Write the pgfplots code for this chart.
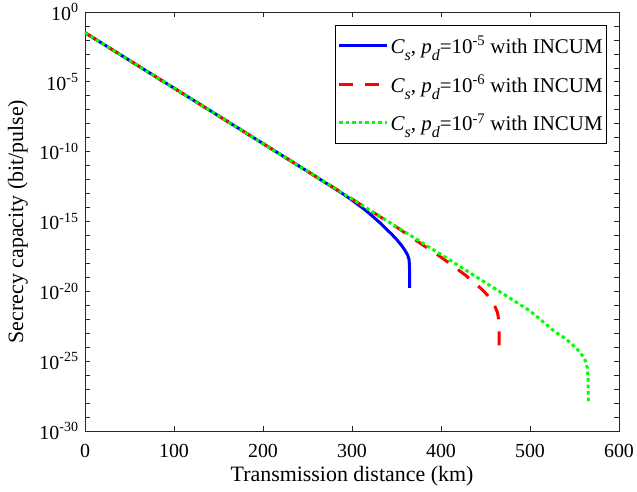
\documentclass[border=0pt]{standalone}
\usepackage{fontspec}
\setmainfont{Liberation Serif}
\usepackage{pgfplots}
\pgfplotsset{compat=1.18}

\newcommand{\tfont}{\fontsize{20}{24}\selectfont}
\newcommand{\gfont}{\fontsize{21}{25}\selectfont}
\newcommand{\lfont}{\fontsize{22}{26}\selectfont}
\newcommand{\sub}[1]{\raisebox{-0.33em}{\fontsize{16}{16}\selectfont\textit{#1}}}
\newcommand{\ent}[1]{\textit{C}\sub{s}, \textit{p}\sub{d}=10\textsuperscript{#1} with INCUM}

\begin{document}
\begin{tikzpicture}
\begin{axis}[
  at={(0,0)}, anchor=south west,
  scale only axis, width=534bp, height=419bp,
  xmin=0, xmax=600, ymin=-30, ymax=0,
  xtick={0,100,...,600},
  ytick={-30,-25,...,0},
  yticklabels={10\textsuperscript{-30},10\textsuperscript{-25},10\textsuperscript{-20},10\textsuperscript{-15},10\textsuperscript{-10},10\textsuperscript{-5},10\textsuperscript{0}},
  minor ytick={-29,-28,-27,-26,-24,-23,-22,-21,-19,-18,-17,-16,-14,-13,-12,-11,-9,-8,-7,-6,-4,-3,-2,-1},
  tick align=inside, tick pos=both,
  major tick length=5bp, minor tick length=5bp,
  axis line style={black!85, line width=0.7bp},
  every tick/.style={black!85, line width=0.7bp},
  /pgf/number format/assume math mode=true,
  tick label style={font=\tfont},
  xticklabel style={yshift=-10bp},
  yticklabel style={xshift=-3bp},
  label style={font=\lfont},
  xlabel={Transmission distance (km)},
  ylabel={Secrecy capacity (bit/pulse)},
  xlabel style={at={(axis description cs:0.5,-0.1074)}, anchor=center},
  ylabel style={at={(axis description cs:-0.1255,0.5)}, anchor=center},
  legend cell align=left,
  legend style={at={(1,1)}, anchor=north east, xshift=-12bp, yshift=-13bp,
    draw=black, line width=0.7bp, font=\gfont, inner xsep=2bp, inner ysep=9bp,
    row sep=16bp},
  legend image code/.code={\draw[#1] (0bp,0bp) -- (48bp,0bp);},
]
\addplot[blue, line width=3bp] coordinates {
(0,-1.48) (100,-5.45) (200,-9.42) (250,-11.41) (280,-12.62) (290,-13.03)
(300,-13.47) (310,-13.94) (320,-14.45) (331.5,-15.1) (345,-15.94) (350.6,-16.32)
(356,-16.74) (359.6,-17.07) (362.5,-17.4) (364.2,-17.75) (364.6,-18.3) (364.7,-19.76)};
\addlegendentry{\ent{-5}}
\addplot[red, line width=3bp, dash pattern=on 14bp off 12bp] coordinates {
(0,-1.48) (100,-5.45) (200,-9.42) (300,-13.39) (350,-15.4) (373,-16.4)
(400,-17.55) (427,-18.82) (445,-19.8) (452,-20.26) (458,-20.8) (461.5,-21.2)
(463.6,-21.55) (464.7,-22.0) (465.2,-22.6) (465.3,-24.0)};
\addlegendentry{\ent{-6}}
\addplot[green, line width=3bp, dash pattern=on 3.5bp off 3bp] coordinates {
(0,-1.48) (100,-5.45) (200,-9.42) (300,-13.39) (400,-17.36) (450,-19.38)
(500,-21.4) (528,-22.89) (541,-23.43) (553,-24.14) (559,-24.6) (562.6,-25.03)
(564.5,-25.5) (565.3,-26.3) (565.5,-28.06)};
\addlegendentry{\ent{-7}}
\end{axis}
\pgfresetboundingbox
\path[use as bounding box] (-85bp,-61bp) rectangle (552bp,431bp);
\end{tikzpicture}
\end{document}
